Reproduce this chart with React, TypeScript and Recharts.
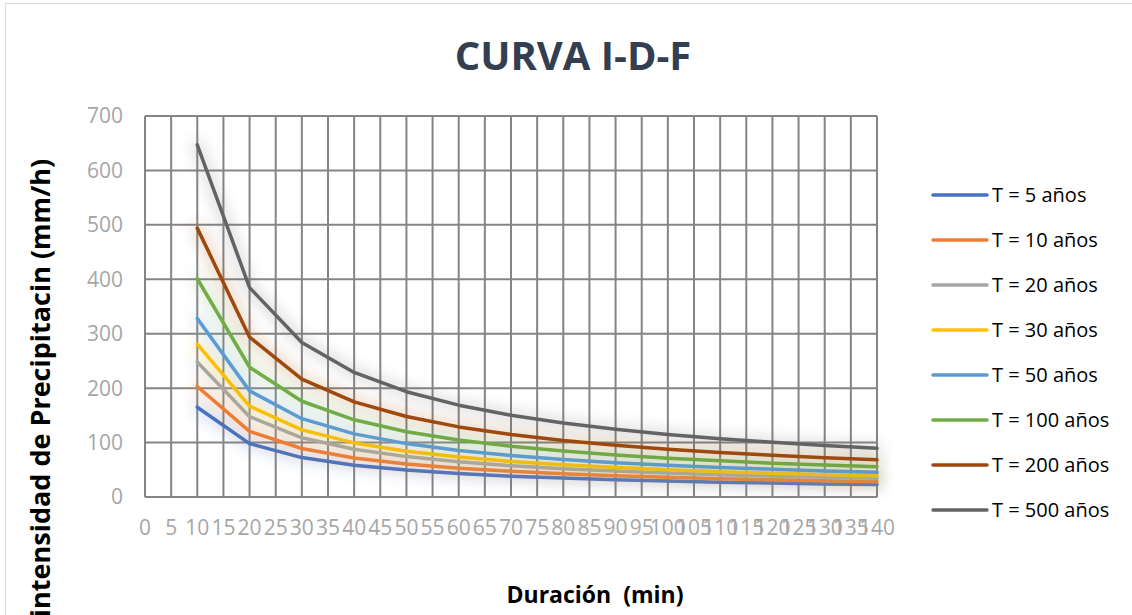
import React from "react";
import { LineChart, Line, XAxis, YAxis, CartesianGrid } from "recharts";

const durations = [10, 20, 30, 40, 50, 60, 70, 80, 90, 100, 110, 120, 130, 140];
const t5 = [165, 98.1, 72.4, 58.3, 49.4, 43.0, 38.3, 34.7, 31.8, 29.3, 27.3, 25.6, 24.1, 22.8];
const t10 = [203, 120.7, 89.1, 71.8, 60.7, 52.9, 47.2, 42.7, 39.1, 36.1, 33.6, 31.5, 29.7, 28.1];
const t20 = [248, 147.5, 108.8, 87.7, 74.2, 64.7, 57.6, 52.1, 47.7, 44.1, 41.0, 38.5, 36.2, 34.3];
const t30 = [281, 167.1, 123.3, 99.4, 84.0, 73.3, 65.3, 59.1, 54.1, 50.0, 46.5, 43.6, 41.1, 38.8];
const t50 = [328, 195.0, 143.9, 116.0, 98.1, 85.5, 76.2, 68.9, 63.1, 58.3, 54.3, 50.9, 47.9, 45.3];
const t100 = [401, 238.4, 175.9, 141.8, 119.9, 104.6, 93.2, 84.3, 77.2, 71.3, 66.4, 62.2, 58.6, 55.4];
const t200 = [494, 293.7, 216.7, 174.7, 147.8, 128.8, 114.8, 103.8, 95.1, 87.8, 81.8, 76.6, 72.2, 68.3];
const t500 = [647, 384.7, 283.8, 228.8, 193.5, 168.7, 150.3, 136.0, 124.5, 115.0, 107.1, 100.4, 94.5, 89.4];

const xTicks = [0, 5, 10, 15, 20, 25, 30, 35, 40, 45, 50, 55, 60, 65, 70, 75, 80, 85, 90, 95, 100, 105, 110, 115, 120, 125, 130, 135, 140];
const yTicks = [0, 100, 200, 300, 400, 500, 600, 700];

const seriesNames = ["T = 5 años", "T = 10 años", "T = 20 años", "T = 30 años", "T = 50 años", "T = 100 años", "T = 200 años", "T = 500 años"];
const seriesKeys = ["t5", "t10", "t20", "t30", "t50", "t100", "t200", "t500"];
const seriesColors = ["#4472C4", "#ED7D31", "#A5A5A5", "#FFC000", "#5B9BD5", "#70AD47", "#9E480E", "#636363"];
const seriesValues = [t5, t10, t20, t30, t50, t100, t200, t500];

const data = durations.map((d, i) => {
  const row: Record<string, number> = { d };
  seriesKeys.forEach((k, j) => {
    row[k] = seriesValues[j][i];
  });
  return row;
});

const FONT = "'Open Sans', sans-serif";
const GRID = "#858585";

export default function App() {
  return (
    <div
      style={{
        position: "absolute",
        left: 0,
        top: 0,
        width: 1132,
        height: 615,
        overflow: "hidden",
        background: "#fff",
        fontFamily: FONT,
      }}
    >
      <div
        style={{
          position: "absolute",
          left: 5,
          top: 3,
          width: 1200,
          height: 700,
          border: "1px solid #D9D9D9",
        }}
      />
      <LineChart
        width={1132}
        height={615}
        data={data}
        margin={{ top: 116, right: 255, bottom: 0, left: 0 }}
        style={{ position: "absolute", left: 0, top: 0 }}
      >
        <defs>
          <filter id="glow" filterUnits="userSpaceOnUse" x="0" y="0" width="1132" height="615">
            <feMorphology in="SourceGraphic" operator="dilate" radius="3" result="thick" />
            <feGaussianBlur in="thick" stdDeviation="7" result="blur" />
            <feComponentTransfer in="blur" result="soft">
              <feFuncA type="linear" slope="0.22" />
            </feComponentTransfer>
            <feMerge>
              <feMergeNode in="soft" />
              <feMergeNode in="SourceGraphic" />
            </feMerge>
          </filter>
        </defs>
        <CartesianGrid stroke={GRID} strokeWidth={2} />
        <XAxis
          dataKey="d"
          type="number"
          domain={[0, 140]}
          ticks={xTicks}
          interval={0}
          height={118}
          tickSize={0}
          tickMargin={23}
          axisLine={{ stroke: GRID, strokeWidth: 2 }}
          tickLine={false}
          tick={{ fill: "#A6A6A6", fontSize: 21, fontFamily: FONT }}
        />
        <YAxis
          type="number"
          domain={[0, 700]}
          ticks={yTicks}
          interval={0}
          width={145}
          tickSize={0}
          tickMargin={22}
          axisLine={{ stroke: GRID, strokeWidth: 2 }}
          tickLine={false}
          tick={{ fill: "#A6A6A6", fontSize: 21, fontFamily: FONT }}
        />
        {seriesKeys.map((k, j) => (
          <Line
            key={k}
            dataKey={k}
            name={seriesNames[j]}
            stroke={seriesColors[j]}
            strokeWidth={3.5}
            dot={false}
            activeDot={false}
            isAnimationActive={false}
            strokeLinejoin="round"
            strokeLinecap="round"
          />
        ))}
      </LineChart>
      <style>{`.recharts-line path, .recharts-line-curve { filter: url(#glow); }`}</style>
      <svg width={1132} height={615} style={{ position: "absolute", left: 0, top: 0, pointerEvents: "none" }}>
        <text x={573} y={70} textAnchor="middle" fontSize={40} fontWeight={700} fontFamily={FONT} fill="#333F50">
          CURVA I-D-F
        </text>
        <text x={595} y={603} textAnchor="middle" fontSize={23} fontWeight={700} fontFamily={FONT} fill="#000" style={{ whiteSpace: "pre" }}>
          {"Duración  (min)"}
        </text>
        <text
          x={0}
          y={0}
          transform="translate(50, 388) rotate(-90)"
          textAnchor="middle"
          fontSize={27}
          fontWeight={700}
          fontFamily={FONT}
          fill="#000"
        >
          intensidad de Precipitacin (mm/h)
        </text>
        {seriesNames.map((n, j) => (
          <g key={n} transform={`translate(930, ${195 + 45 * j})`}>
            <line x1={3} x2={57} y1={0} y2={0} stroke={seriesColors[j]} strokeWidth={3.5} strokeLinecap="round" />
            <text x={62} y={0} dy="0.36em" fontSize={20} fontFamily={FONT} fill="#000">
              {n}
            </text>
          </g>
        ))}
      </svg>
    </div>
  );
}
